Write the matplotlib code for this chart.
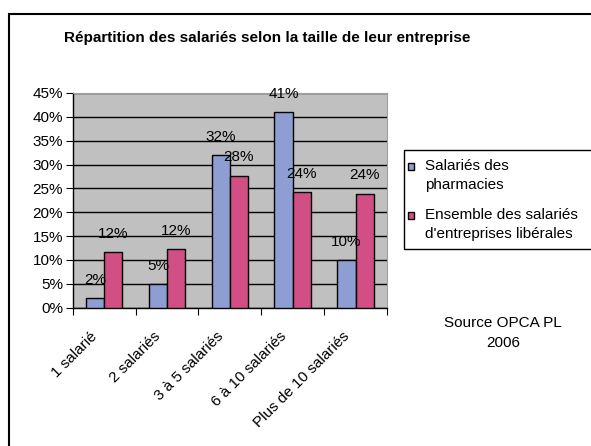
import matplotlib
matplotlib.use('Agg')
import matplotlib.pyplot as plt
import matplotlib.patches as patches
import numpy as np

plt.rcParams['font.family'] = ['Liberation Sans', 'DejaVu Sans']

categories = ["1 salarié", "2 salariés", "3 à 5 salariés", "6 à 10 salariés", "Plus de 10 salariés"]
pharmacies = [2, 5, 32, 41, 10]
ensemble = [11.6, 12.2, 27.7, 24.2, 23.9]
pharmacies_labels = ["2%", "5%", "32%", "41%", "10%"]
ensemble_labels = ["12%", "12%", "28%", "24%", "24%"]
series_names = ["Salariés des\npharmacies", "Ensemble des salariés\nd'entreprises libérales"]

blue = '#8F9ED2'
pink = '#D24F85'
W, H = 591, 446

def fx(px):
    return px / W

def fy(py):
    return 1 - py / H

fig = plt.figure(figsize=(W / 100, H / 100), dpi=100)
fig.patch.set_facecolor('white')

# outer chart frame (only top/left visible)
fig.patches.append(patches.Rectangle((fx(9), -0.1), 1.2, fy(13.5) + 0.1, transform=fig.transFigure,
                                     facecolor='none', edgecolor='black', linewidth=1.5))

ax = fig.add_axes([fx(72.7), fy(307.7), fx(387) - fx(72.7), fy(93) - fy(307.7)])
ax.set_facecolor('#C0C0C0')

x = np.arange(len(categories))
w = 0.29
ax.bar(x - w / 2, pharmacies, w, color=blue, edgecolor='black', linewidth=1, zorder=3)
ax.bar(x + w / 2, ensemble, w, color=pink, edgecolor='black', linewidth=1, zorder=3)

for xi, v, t in zip(x - w / 2, pharmacies, pharmacies_labels):
    ax.text(xi, v + 3.0, t, ha='center', va='baseline', fontsize=11, zorder=4)
for xi, v, t in zip(x + w / 2, ensemble, ensemble_labels):
    ax.text(xi, v + 3.0, t, ha='center', va='baseline', fontsize=11, zorder=4)

ax.set_xlim(-0.5, len(categories) - 0.5)
ax.set_ylim(0, 45)
ax.set_yticks(np.arange(0, 46, 5))
ax.set_yticklabels([f"{v}%" for v in range(0, 46, 5)], fontsize=11)
ax.yaxis.grid(True, color='black', linewidth=1, zorder=1)
ax.set_axisbelow(True)

# ticks at category boundaries, labels near centres
ax.set_xticks(np.arange(-0.5, len(categories), 1))
ax.set_xticklabels([])
ax.set_xticks(x - 0.14, minor=True)
ax.set_xticklabels(categories, minor=True, rotation=45, ha='right', va='center',
                   rotation_mode='anchor', fontsize=11)
ax.tick_params(axis='x', which='minor', length=0, pad=19)
ax.tick_params(axis='x', which='major', length=5, direction='out', color='black')
ax.tick_params(axis='y', length=5, direction='out', pad=2)

for s in ['top', 'right']:
    ax.spines[s].set_color('#A0A0A0')
for s in ['left', 'bottom']:
    ax.spines[s].set_color('black')
    ax.spines[s].set_linewidth(1)

fig.text(fx(267), fy(38), "Répartition des salariés selon la taille de leur entreprise",
         ha='center', va='center', fontsize=11, fontweight='bold')

# legend drawn by hand (box runs off the right edge)
fig.patches.append(patches.Rectangle((fx(404), fy(249)), 0.5, fy(150) - fy(249),
                                     transform=fig.transFigure, facecolor='white',
                                     edgecolor='black', linewidth=1))
for i, (name, col) in enumerate(zip(series_names, [blue, pink])):
    ytop = 166 + i * 49
    fig.patches.append(patches.Rectangle((fx(408), fy(ytop + 4)), 6 / W, 7 / H,
                                         transform=fig.transFigure, facecolor=col,
                                         edgecolor='black', linewidth=1))
    fig.text(fx(425), fy(ytop - 7), name, ha='left', va='top', fontsize=11,
             linespacing=1.45)

fig.text(fx(503), fy(333), "Source OPCA PL\n2006", ha='center', va='center',
         fontsize=11, linespacing=1.5)

fig.savefig('out.png', dpi=100)
